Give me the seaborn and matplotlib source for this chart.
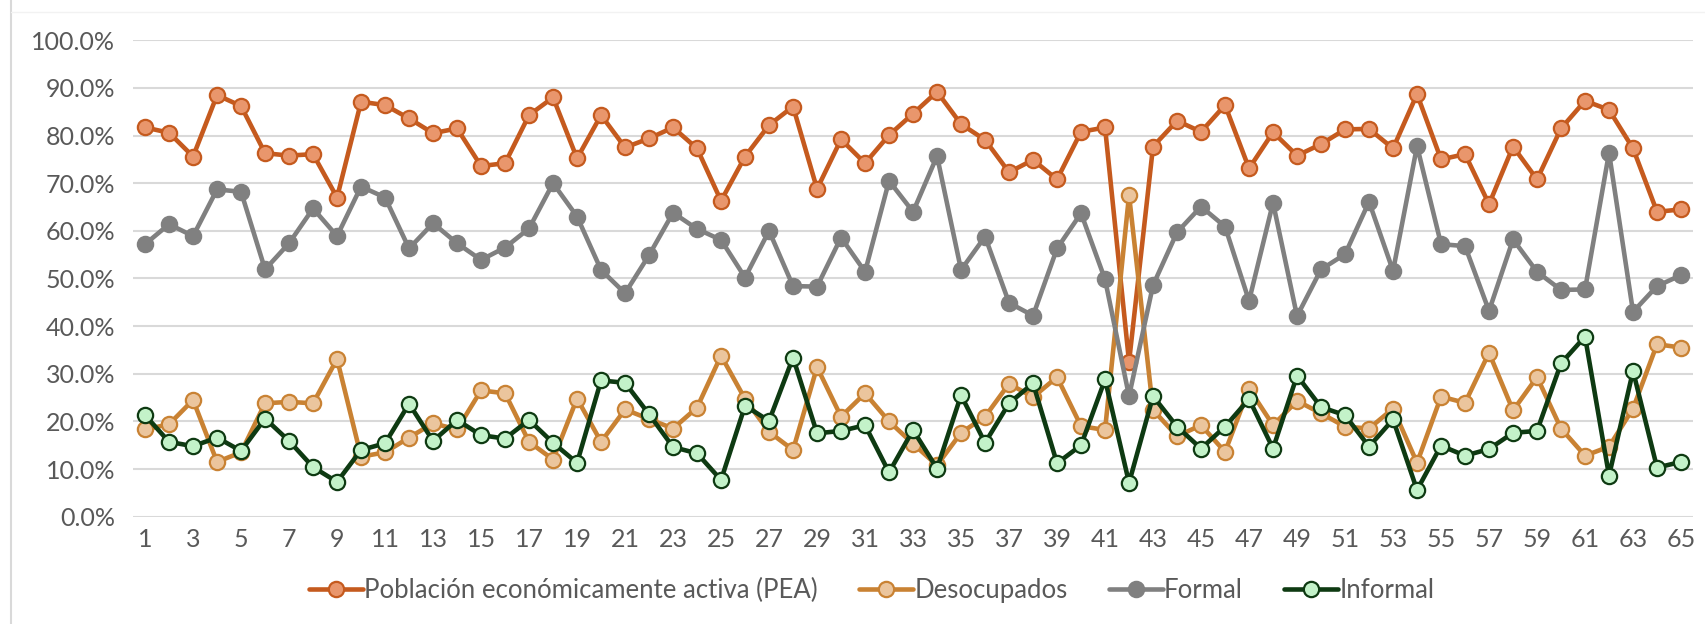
import numpy as np
import pandas as pd
import matplotlib
matplotlib.use("Agg")
import matplotlib.pyplot as plt
import seaborn as sns
from matplotlib.ticker import PercentFormatter

# values (percent)
periods = list(range(1, 66))

pea = [81.7, 80.6, 75.6, 88.5, 86.2, 76.3, 75.8, 76.1, 67.0,
       87.1, 86.4, 83.6, 80.5, 81.5, 73.6, 74.2, 84.3, 88.0, 75.2,
       84.3, 77.5, 79.4, 81.7, 77.3, 66.3, 75.6, 82.2, 86.1, 68.8,
       79.2, 74.2, 80.1, 84.6, 89.2, 82.4, 79.1, 72.3, 74.9, 70.8,
       80.8, 81.7, 32.5, 77.7, 83.1, 80.8, 86.4, 73.1, 80.7, 75.8,
       78.2, 81.3, 81.4, 77.3, 88.7, 75.0, 76.1, 65.6, 77.7, 70.8,
       81.5, 87.3, 85.4, 77.3, 64.0, 64.5]

desocupados = [18.3, 19.4, 24.5, 11.5, 13.5, 23.8, 24.1, 23.8, 33.1,
               12.6, 13.5, 16.6, 19.6, 18.3, 26.5, 25.9, 15.7, 12.0, 24.8,
               15.7, 22.5, 20.5, 18.5, 22.9, 33.8, 24.7, 17.8, 14.0, 31.4,
               21.0, 25.9, 20.0, 15.3, 10.8, 17.6, 21.0, 27.9, 25.1, 29.3,
               19.0, 18.2, 67.5, 22.4, 16.9, 19.2, 13.6, 26.9, 19.2, 24.3,
               21.7, 18.9, 18.5, 22.7, 11.3, 25.2, 23.9, 34.4, 22.3, 29.3,
               18.5, 12.8, 14.7, 22.7, 36.2, 35.5]

formal = [57.2, 61.4, 58.9, 68.7, 68.2, 51.9, 57.4, 64.7, 58.9,
          69.3, 67.0, 56.3, 61.6, 57.4, 53.9, 56.5, 60.5, 70.0, 63.0,
          51.8, 46.9, 54.9, 63.8, 60.4, 58.1, 50.2, 60.0, 48.4, 48.3,
          58.6, 51.4, 70.5, 64.0, 75.7, 51.8, 58.8, 44.9, 42.2, 56.3,
          63.7, 49.8, 25.3, 48.6, 59.7, 65.1, 60.9, 45.3, 65.9, 42.1,
          51.9, 55.1, 66.1, 51.6, 77.8, 57.2, 56.8, 43.2, 58.2, 51.4,
          47.6, 47.7, 76.4, 43.0, 48.4, 50.7]

informal = [21.3, 15.7, 14.8, 16.6, 13.8, 20.6, 15.9, 10.4, 7.3,
            14.0, 15.4, 23.7, 15.9, 20.3, 17.1, 16.4, 20.3, 15.5, 11.3,
            28.6, 28.1, 21.5, 14.6, 13.3, 7.7, 23.3, 20.1, 33.4, 17.5,
            18.0, 19.2, 9.3, 18.2, 10.1, 25.5, 15.5, 23.8, 28.0, 11.2,
            15.0, 28.8, 7.1, 25.3, 18.9, 14.3, 18.9, 24.7, 14.3, 29.6,
            23.0, 21.3, 14.7, 20.4, 5.6, 14.9, 12.8, 14.2, 17.6, 18.0,
            32.2, 37.8, 8.6, 30.6, 10.3, 11.5]

names = ["Población económicamente activa (PEA)", "Desocupados", "Formal", "Informal"]

df = pd.DataFrame({
    "periodo": periods,
    names[0]: np.array(pea) / 100,
    names[1]: np.array(desocupados) / 100,
    names[2]: np.array(formal) / 100,
    names[3]: np.array(informal) / 100,
})

# line colour, marker face, marker edge
styles = {
    names[0]: ("#C55A1E", "#E9966C", "#C55A1E"),
    names[1]: ("#C98233", "#EBC59D", "#C98233"),
    names[2]: ("#808080", "#808080", "#808080"),
    names[3]: ("#0E3A12", "#C3F2C9", "#0E3A12"),
}

sns.set_theme(style="white")
plt.rcParams["font.family"] = ["Lato", "DejaVu Sans"]

fig = plt.figure(figsize=(17.06, 6.24), dpi=100)
ax = fig.add_axes([0.078, 0.172, 0.9144, 0.7634])

for name in names:
    line, face, edge = styles[name]
    sns.lineplot(data=df, x="periodo", y=name, ax=ax, color=line, linewidth=3.3,
                 marker="o", markersize=11, markerfacecolor=face,
                 markeredgecolor=edge, markeredgewidth=1.6, label=name)

ax.set_xlim(0.5, 65.5)
ax.set_ylim(0, 1)
ax.set_yticks(np.arange(0, 1.01, 0.1))
ax.yaxis.set_major_formatter(PercentFormatter(1.0, decimals=1))
ax.set_xticks(periods[::2])
ax.set_xlabel("")
ax.set_ylabel("")
ax.grid(axis="y", color="#D9D9D9", linewidth=1.5)
ax.set_axisbelow(True)
for s in ax.spines.values():
    s.set_visible(False)
ax.tick_params(axis="y", length=0, pad=13, labelsize=18, labelcolor="#595959")
ax.tick_params(axis="x", length=0, pad=8, labelsize=18, labelcolor="#595959")

leg = ax.legend(loc="center", bbox_to_anchor=(0.511, 0.053), bbox_transform=fig.transFigure,
                ncol=4, frameon=False, fontsize=18.5, handlelength=2.1,
                handletextpad=0.05, columnspacing=1.6, labelcolor="#595959")

# chart frame
fig.add_artist(plt.Line2D([11 / 1706, 11 / 1706], [0.0, 1.0], color="#D9D9D9", linewidth=1.5))
fig.add_artist(plt.Line2D([11 / 1706, 1.0], [1 - 12 / 624, 1 - 12 / 624], color="#F2F2F2", linewidth=1))

fig.savefig("out.png", dpi=100, facecolor="white")
